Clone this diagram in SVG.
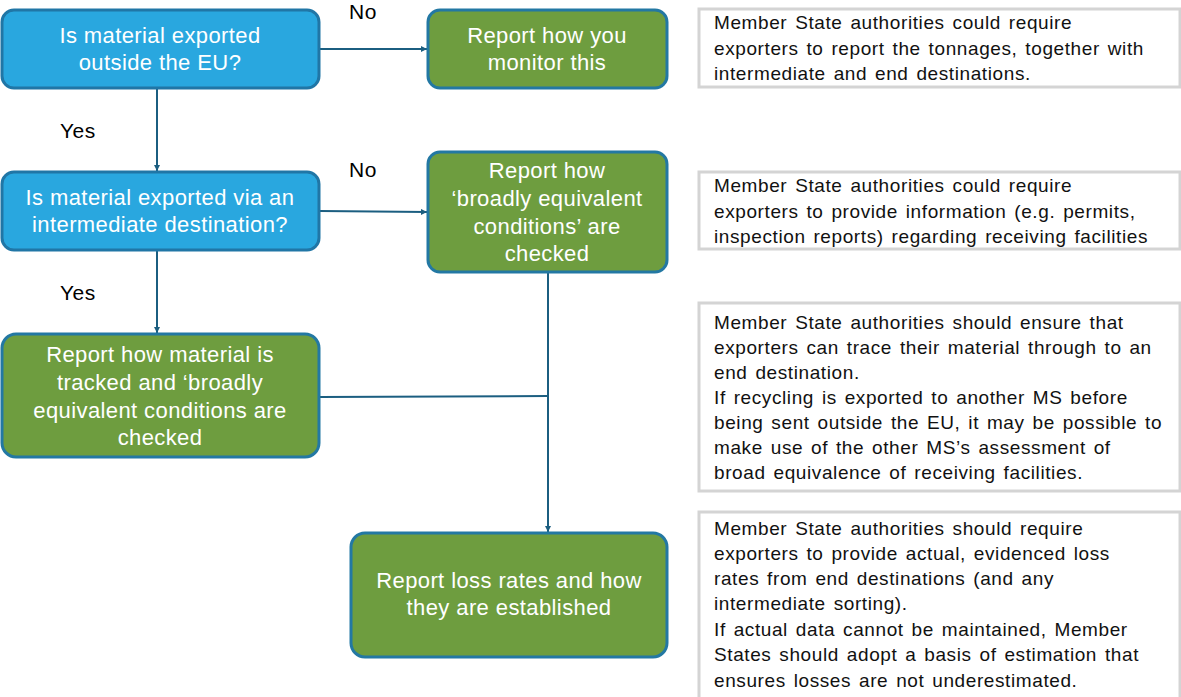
<svg xmlns="http://www.w3.org/2000/svg" width="1181" height="697" viewBox="0 0 1181 697">
<style>
.blue{fill:#29A7DF;stroke:#2076A6;stroke-width:3}
.green{fill:#6E9D3F;stroke:#2378A3;stroke-width:3}
.nt{font-family:"Liberation Sans",Arial,sans-serif;font-size:22px;letter-spacing:0.4px;fill:#fff;text-anchor:middle}
.lbl{font-family:"Liberation Sans",Arial,sans-serif;font-size:21px;letter-spacing:0.5px;fill:#000}
.note{fill:#fff;stroke:#D4D4D4;stroke-width:3}
.nx{font-family:"Liberation Sans",Arial,sans-serif;font-size:19px;letter-spacing:0.6px;word-spacing:2px;fill:#111}
.conn{fill:none;stroke:#1B5E80;stroke-width:2}
</style>
<defs>
<marker id="ah" viewBox="0 0 10 10" refX="10" refY="5" markerWidth="6" markerHeight="6" orient="auto" markerUnits="userSpaceOnUse">
<path d="M0,0 L10,5 L0,10 z" fill="#1B5E80"/>
</marker>
</defs>
<rect width="1181" height="697" fill="#fff"/>
<g id="connectors">
<line class="conn" x1="320" y1="49" x2="427" y2="49" marker-end="url(#ah)"/>
<line class="conn" x1="157" y1="88" x2="157" y2="171" marker-end="url(#ah)"/>
<line class="conn" x1="320" y1="211" x2="427" y2="212" marker-end="url(#ah)"/>
<line class="conn" x1="157" y1="250" x2="157" y2="333" marker-end="url(#ah)"/>
<polyline class="conn" points="320,397 548,396"/>
<line class="conn" x1="548" y1="272" x2="548" y2="532" marker-end="url(#ah)"/>
<text class="lbl" x="349" y="19">No</text>
<text class="lbl" x="60" y="138">Yes</text>
<text class="lbl" x="349" y="177">No</text>
<text class="lbl" x="60" y="300">Yes</text>
</g>
<g id="n1">
<rect class="blue" x="2" y="10" width="317" height="78" rx="12"/>
<text class="nt" x="160" y="43">Is material exported</text>
<text class="nt" x="160" y="70">outside the EU?</text>
</g>
<g id="n2">
<rect class="green" x="428" y="10" width="239" height="78" rx="12"/>
<text class="nt" x="547" y="43">Report how you</text>
<text class="nt" x="547" y="70">monitor this</text>
</g>
<g id="n3">
<rect class="blue" x="2" y="172" width="317" height="78" rx="12"/>
<text class="nt" x="160" y="205">Is material exported via an</text>
<text class="nt" x="160" y="232">intermediate destination?</text>
</g>
<g id="n4">
<rect class="green" x="428" y="152" width="239" height="120" rx="12"/>
<text class="nt" x="547" y="178">Report how</text>
<text class="nt" x="547" y="206">‘broadly equivalent</text>
<text class="nt" x="547" y="234">conditions’ are</text>
<text class="nt" x="547" y="261">checked</text>
</g>
<g id="n5">
<rect class="green" x="2" y="334" width="317" height="123" rx="14"/>
<text class="nt" x="160" y="362">Report how material is</text>
<text class="nt" x="160" y="390">tracked and ‘broadly</text>
<text class="nt" x="160" y="418">equivalent conditions are</text>
<text class="nt" x="160" y="445">checked</text>
</g>
<g id="n6">
<rect class="green" x="351" y="533" width="316" height="124" rx="14"/>
<text class="nt" x="509" y="588">Report loss rates and how</text>
<text class="nt" x="509" y="615">they are established</text>
</g>
<g id="note1">
<rect class="note" x="699" y="9" width="481" height="78"/>
<text class="nx" x="714" y="29">Member State authorities could require</text>
<text class="nx" x="714" y="55">exporters to report the tonnages, together with</text>
<text class="nx" x="714" y="80">intermediate and end destinations.</text>
</g>
<g id="note2">
<rect class="note" x="699" y="172" width="481" height="77"/>
<text class="nx" x="714" y="192">Member State authorities could require</text>
<text class="nx" x="714" y="218">exporters to provide information (e.g. permits,</text>
<text class="nx" x="714" y="243">inspection reports) regarding receiving facilities</text>
</g>
<g id="note3">
<rect class="note" x="699" y="303" width="481" height="188"/>
<text class="nx" x="714" y="329">Member State authorities should ensure that</text>
<text class="nx" x="714" y="354">exporters can trace their material through to an</text>
<text class="nx" x="714" y="379">end destination.</text>
<text class="nx" x="714" y="404">If recycling is exported to another MS before</text>
<text class="nx" x="714" y="429">being sent outside the EU, it may be possible to</text>
<text class="nx" x="714" y="454">make use of the other MS’s assessment of</text>
<text class="nx" x="714" y="479">broad equivalence of receiving facilities.</text>
</g>
<g id="note4">
<rect class="note" x="699" y="512" width="481" height="190"/>
<text class="nx" x="714" y="535">Member State authorities should require</text>
<text class="nx" x="714" y="560">exporters to provide actual, evidenced loss</text>
<text class="nx" x="714" y="585">rates from end destinations (and any</text>
<text class="nx" x="714" y="610">intermediate sorting).</text>
<text class="nx" x="714" y="636">If actual data cannot be maintained, Member</text>
<text class="nx" x="714" y="661">States should adopt a basis of estimation that</text>
<text class="nx" x="714" y="687">ensures losses are not underestimated.</text>
</g>
</svg>
